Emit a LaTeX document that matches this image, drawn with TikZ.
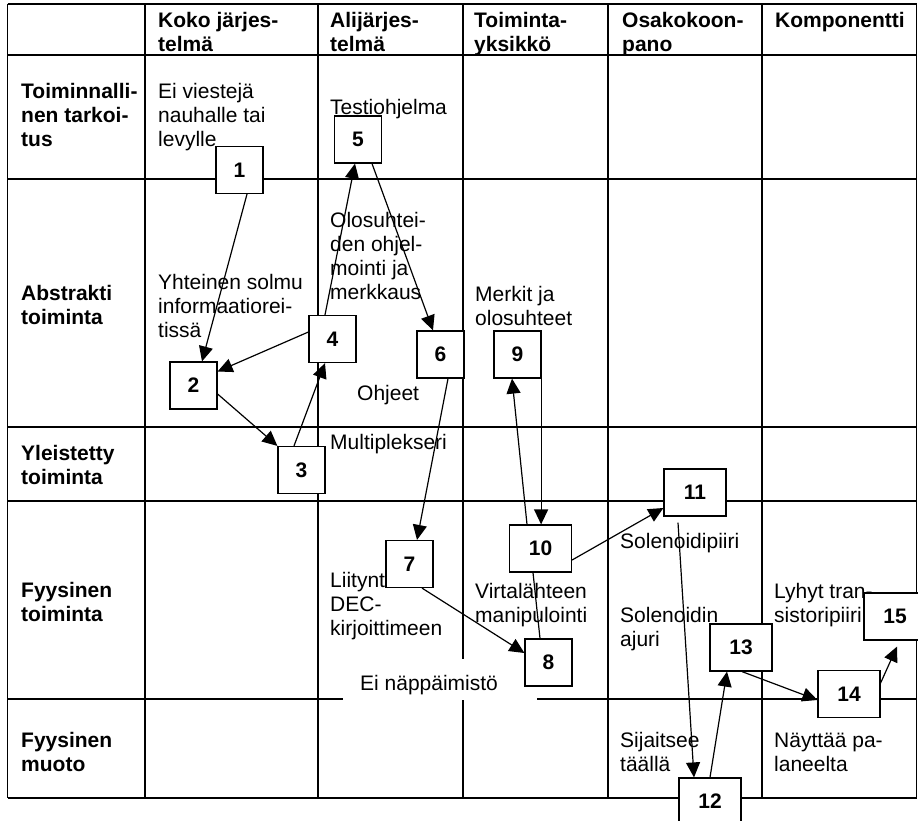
\documentclass[tikz,border=0pt]{standalone}
\usepackage{fontspec}
\setmainfont{Liberation Sans}
\usetikzlibrary{arrows.meta}
\newcommand\bodysize{\fontsize{21}{24}\selectfont}
\begin{document}
\begin{tikzpicture}[x=1pt,y=-1pt,
  grid/.style={line width=1.3pt},
  numbox/.style={draw,fill=white,line width=1.2pt,minimum width=47pt,minimum height=47pt,inner sep=0pt,font=\bodysize\bfseries},
  widebox/.style={numbox,minimum width=62pt},
  lbl/.style={anchor=base west,inner sep=0pt,align=left,font=\bodysize},
  hdr/.style={lbl,font=\bodysize\bfseries},
  link/.style={line width=1.2pt,-{Triangle[length=15pt,width=14pt]}},
  plainlink/.style={line width=1.2pt}
]
\useasboundingbox (0,0) rectangle (918,821);

% table grid
\foreach \yy in {4,55,179,427,501,699,798}
  \draw[grid] (7.5,\yy) -- (916.5,\yy);
\foreach \xx in {7.5,145,318,463,608,762,916.5}
  \draw[grid] (\xx,4) -- (\xx,798);

% column headers (positions give the baseline of the last line)
\node[hdr] (hkoko) at (158,52) {Koko järjes-\\telmä};
\node[hdr] (hali)  at (330,52) {Alijärjes-\\telmä};
\node[hdr] (htoim) at (474,52) {Toiminta-\\yksikkö};
\node[hdr] (hosa)  at (622,52) {Osakokoon-\\pano};
\node[hdr] (hkomp) at (775,28) {Komponentti};

% row headers
\node[hdr] (rtark) at (21,147) {Toiminnalli-\\nen tarkoi-\\tus};
\node[hdr] (rabs)  at (21,324) {Abstrakti\\toiminta};
\node[hdr] (ryle)  at (21,484) {Yleistetty\\toiminta};
\node[hdr] (rfyt)  at (21,621) {Fyysinen\\toiminta};
\node[hdr] (rfym)  at (21,771) {Fyysinen\\muoto};

% cell texts
\node[lbl] (tviest) at (158,147) {Ei viestejä\\nauhalle tai\\levylle};
\node[lbl] (tsolmu) at (158,337) {Yhteinen solmu\\informaatiorei-\\tissä};
\node[lbl] (ttesti) at (330,115) {Testiohjelma};
\node[lbl] (tolos)  at (330,299) {Olosuhtei-\\den ohjel-\\mointi ja\\merkkaus};
\node[lbl] (tohje)  at (357,400) {Ohjeet};
\node[lbl] (tmulti) at (330,449) {Multiplekseri};
\node[lbl] (tliit)  at (330,635) {Liityntä\\DEC-\\kirjoittimeen};
\node[lbl] (tmerk)  at (475,325) {Merkit ja\\olosuhteet};
\node[lbl] (tvirta) at (475,622) {Virtalähteen\\manipulointi};
\node[lbl] (tsolp)  at (620,548) {Solenoidipiiri};
\node[lbl] (tsola)  at (620,646) {Solenoidin\\ajuri};
\node[lbl] (tsij)   at (620,771) {Sijaitsee\\täällä};
\node[lbl] (tlyh)   at (774,622) {Lyhyt tran-\\sistoripiiri};
\node[lbl] (tnay)   at (774,771) {Näyttää pa-\\laneelta};
\node[fill=white,inner sep=0pt,minimum width=194pt,minimum height=41pt,anchor=north west] (napbg) at (343,659) {};
\node[lbl] (tnap) at (360,690) {Ei näppäimistö};

% numbered boxes
\node[numbox]  (n1)  at (239.5,170)   {1};
\node[numbox]  (n2)  at (193.5,385.5) {2};
\node[numbox]  (n3)  at (301.5,470)   {3};
\node[numbox]  (n4)  at (332.5,339)   {4};
\node[numbox]  (n5)  at (358,139.5)   {5};
\node[numbox]  (n6)  at (440.5,354.5) {6};
\node[numbox]  (n7)  at (409.5,564)   {7};
\node[numbox]  (n8)  at (548.5,662.5) {8};
\node[numbox]  (n9)  at (517.5,354.5) {9};
\node[widebox] (n10) at (540.5,548.5) {10};
\node[widebox] (n11) at (695,492.5)   {11};
\node[widebox] (n12) at (710,801.5)   {12};
\node[widebox] (n13) at (741,647.5)   {13};
\node[widebox] (n14) at (849,694)     {14};
\node[widebox] (n15) at (895,616.5)   {15};

% connections
\draw[link] ([xshift=7.5pt]n1.south) -- ([xshift=8.5pt]n2.north);
\draw[link] ([yshift=7pt]n4.west) -- ([yshift=14pt]n2.east);
\draw[link] ([yshift=-8.5pt]n2.east) -- (n3.north west);
\draw[link] ([xshift=-7.5pt]n3.north) -- ([xshift=-7.5pt]n4.south);
\draw[link] ([xshift=-7.5pt]n4.north) -- ([xshift=-3pt]n5.south);
\draw[link] ([xshift=14pt]n5.south) -- ([xshift=-7.5pt]n6.north);
\draw[link] ([xshift=7.5pt]n6.south) -- ([xshift=7.5pt]n7.north);
\draw[link] ([xshift=12.5pt]n7.south) -- ([yshift=9.5pt]n8.west);
\draw[plainlink] ([xshift=-8.5pt]n8.north) -- ([xshift=-7.5pt]n10.south);
\draw[link] ([xshift=-13.5pt]n10.north) -- ([xshift=-5.5pt]n9.south);
\draw[link] ([xshift=-0.5pt]n9.south east) -- ([xshift=-0.5pt]n9.south east |- n10.north);
\draw[link] ([yshift=-11.5pt]n10.east) -- ([yshift=-15.5pt]n11.west);
\draw[link] ([xshift=-17pt,yshift=-6pt]n11.south) -- ([xshift=-16pt]n12.north);
\draw[link] (n12.north) -- ([xshift=-14pt]n13.south);
\draw[link] ([xshift=1pt]n13.south) -- ([yshift=-6pt]n14.west);
\draw[link] ([yshift=11pt]n14.east) -- ([xshift=2pt,yshift=-6pt]n15.south);
\end{tikzpicture}
\end{document}
